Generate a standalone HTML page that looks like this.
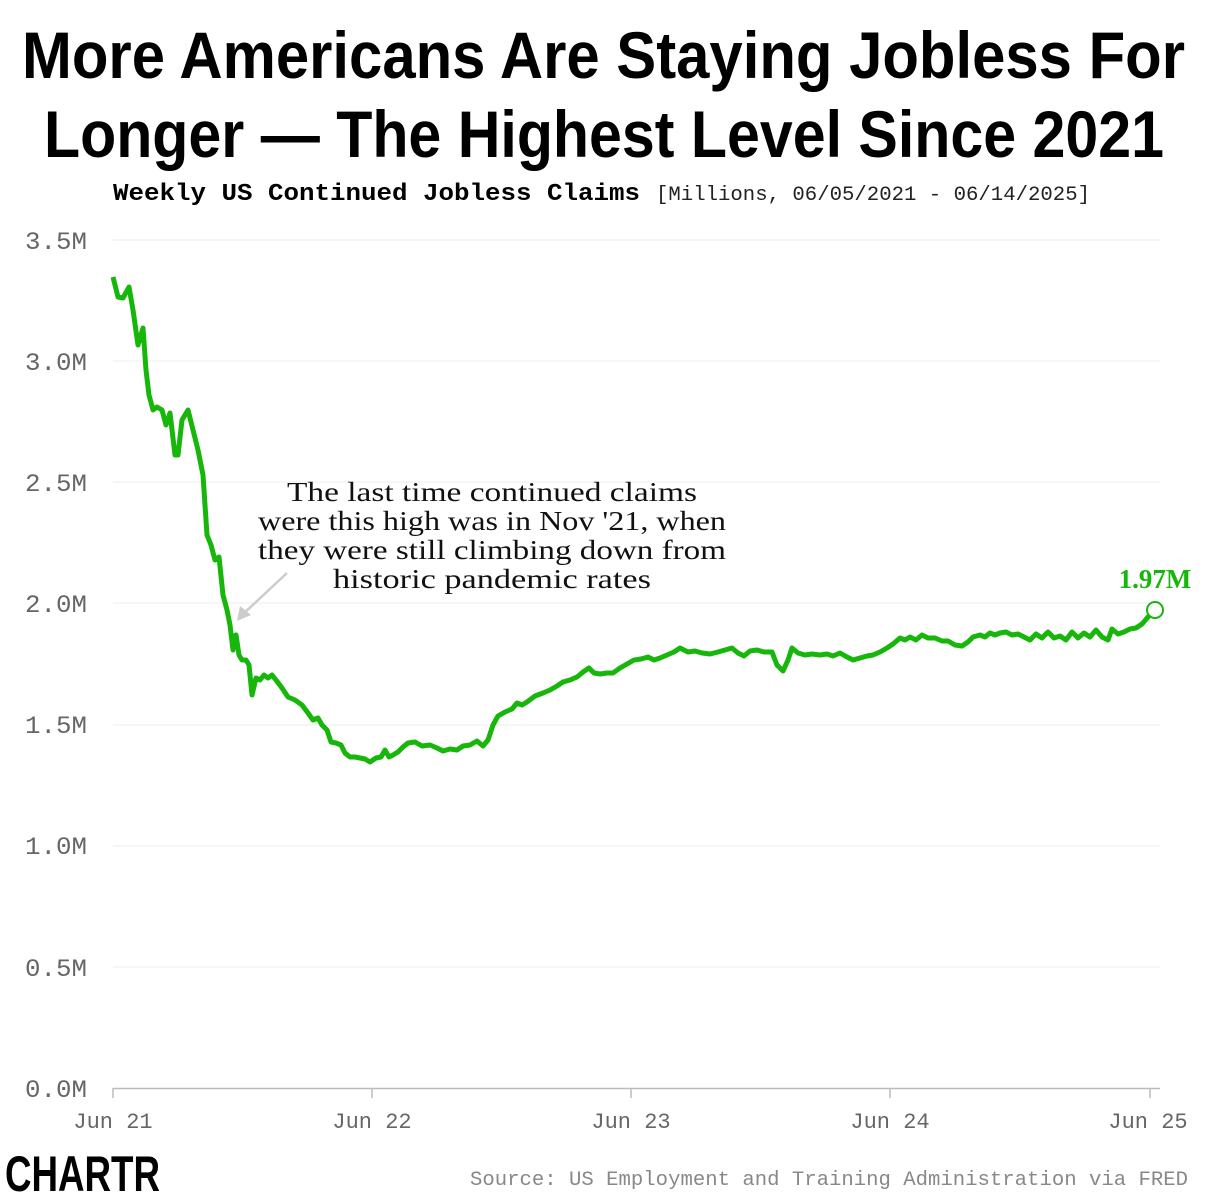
<!DOCTYPE html>
<html><head><meta charset="utf-8"><style>
body{margin:0;background:#fff;}
svg{display:block;}
</style></head><body>
<svg width="1206" height="1200" viewBox="0 0 1206 1200" xmlns="http://www.w3.org/2000/svg">
<rect width="1206" height="1200" fill="#fff"/>
<g font-family="'Liberation Sans Narrow','Liberation Sans',sans-serif" font-weight="bold" font-size="66" fill="#000">
<text x="22" y="78" textLength="1163" lengthAdjust="spacingAndGlyphs">More Americans Are Staying Jobless For</text>
<text x="44" y="157" textLength="1120" lengthAdjust="spacingAndGlyphs">Longer — The Highest Level Since 2021</text>
</g>
<text x="113" y="200" font-family="'Liberation Mono',monospace" font-weight="bold" font-size="24" textLength="527" lengthAdjust="spacingAndGlyphs">Weekly US Continued Jobless Claims</text>
<text x="656" y="200" font-family="'Liberation Mono',monospace" font-size="20" fill="#222" textLength="434" lengthAdjust="spacingAndGlyphs">[Millions, 06/05/2021 - 06/14/2025]</text>
<g stroke="#eee" stroke-width="1">
<line x1="113" x2="1160" y1="240" y2="240"/><line x1="113" x2="1160" y1="361" y2="361"/>
<line x1="113" x2="1160" y1="482" y2="482"/><line x1="113" x2="1160" y1="603" y2="603"/>
<line x1="113" x2="1160" y1="725" y2="725"/><line x1="113" x2="1160" y1="846" y2="846"/>
<line x1="113" x2="1160" y1="967" y2="967"/>
</g>
<line x1="113" x2="1160" y1="1088.5" y2="1088.5" stroke="#bbb" stroke-width="1.5"/>
<g stroke="#bbb" stroke-width="1.5">
<line x1="113" x2="113" y1="1088" y2="1098"/><line x1="372" x2="372" y1="1088" y2="1098"/>
<line x1="631" x2="631" y1="1088" y2="1098"/><line x1="890" x2="890" y1="1088" y2="1098"/>
<line x1="1150" x2="1150" y1="1088" y2="1098"/>
</g>
<g font-family="'Liberation Mono',monospace" font-size="25" fill="#666">
<text x="25" y="249" textLength="62" lengthAdjust="spacingAndGlyphs">3.5M</text><text x="25" y="370" textLength="62" lengthAdjust="spacingAndGlyphs">3.0M</text><text x="25" y="491" textLength="62" lengthAdjust="spacingAndGlyphs">2.5M</text>
<text x="25" y="612" textLength="62" lengthAdjust="spacingAndGlyphs">2.0M</text><text x="25" y="733" textLength="62" lengthAdjust="spacingAndGlyphs">1.5M</text><text x="25" y="854" textLength="62" lengthAdjust="spacingAndGlyphs">1.0M</text>
<text x="25" y="976" textLength="62" lengthAdjust="spacingAndGlyphs">0.5M</text><text x="25" y="1097" textLength="62" lengthAdjust="spacingAndGlyphs">0.0M</text>
</g>
<g font-family="'Liberation Mono',monospace" font-size="22" fill="#666" text-anchor="middle">
<text x="113" y="1128">Jun 21</text><text x="372" y="1128">Jun 22</text><text x="631" y="1128">Jun 23</text>
<text x="890" y="1128">Jun 24</text><text x="1148" y="1128">Jun 25</text>
</g>
<polyline fill="none" stroke="#16b70a" stroke-width="5" stroke-linejoin="round" points="113,277 118,297 123,298 129,287 133,310 138,345 143,328 146,370 149,395 153,410 157,407 162,410 166,425 170,413 175,455 178,455 182,420 188,410 193,430 198,450 203,475 207,535 211,545 215,560 219,557 223,595 227,610 230,625 233,650 236,635 239,655 242,660 246,660 249,665 252,695 256,678 260,680 264,675 268,678 272,675 276,680 282,688 288,697 295,700 302,705 308,713 313,720 318,718 322,725 327,730 331,742 336,743 341,745 345,753 350,757 355,757 360,758 365,759 370,762 376,758 381,757 385,750 389,757 393,755 398,752 403,747 408,743 415,742 422,746 430,745 437,748 443,751 450,749 457,750 463,746 470,745 477,741 483,746 488,740 493,725 498,716 505,712 512,709 517,703 522,705 527,702 535,696 543,693 550,690 557,686 563,682 570,680 577,677 583,672 589,668 594,673 600,674 607,673 613,673 620,668 627,664 634,660 641,659 648,657 654,660 660,658 667,655 674,652 680,648 688,652 695,651 702,653 710,654 718,652 725,650 732,648 738,653 744,656 750,651 757,650 764,652 772,652 777,665 783,671 788,660 792,648 798,653 805,655 812,654 820,655 827,654 833,656 840,653 847,657 853,660 860,658 867,656 873,655 880,652 887,648 893,644 900,638 905,640 910,637 916,640 922,635 928,638 935,638 942,641 948,641 955,645 962,646 968,642 973,637 980,635 985,637 990,633 995,635 1000,633 1006,632 1012,635 1018,634 1024,637 1030,640 1036,634 1042,638 1048,632 1054,638 1060,636 1066,640 1072,632 1078,638 1084,633 1090,637 1096,630 1102,637 1108,640 1112,629 1118,634 1124,632 1130,629 1136,628 1142,624 1148,617 1155,610"/>
<circle cx="1155" cy="610" r="8" fill="#fff" stroke="#16b70a" stroke-width="2"/>
<text x="1155" y="588" font-family="'Liberation Serif',serif" font-weight="bold" font-size="27" fill="#16b70a" text-anchor="middle">1.97M</text>
<g font-family="'Liberation Serif',serif" font-size="27" fill="#111">
<text x="287" y="501" textLength="410" lengthAdjust="spacingAndGlyphs">The last time continued claims</text>
<text x="258" y="530" textLength="468" lengthAdjust="spacingAndGlyphs">were this high was in Nov '21, when</text>
<text x="258" y="559" textLength="468" lengthAdjust="spacingAndGlyphs">they were still climbing down from</text>
<text x="333" y="588" textLength="318" lengthAdjust="spacingAndGlyphs">historic pandemic rates</text>
</g>
<line x1="287" y1="573" x2="242" y2="615" stroke="#ccc" stroke-width="2.5"/>
<polygon points="237,621 240,606 251,615" fill="#ccc"/>
<text x="5" y="1191" font-family="'Liberation Sans Narrow','Liberation Sans',sans-serif" font-weight="bold" font-size="50" fill="#000" textLength="155" lengthAdjust="spacingAndGlyphs">CHARTR</text>
<text x="1188" y="1185" font-family="'Liberation Mono',monospace" font-size="20" fill="#888" text-anchor="end" textLength="718" lengthAdjust="spacingAndGlyphs">Source: US Employment and Training Administration via FRED</text>
</svg>
</body></html>
